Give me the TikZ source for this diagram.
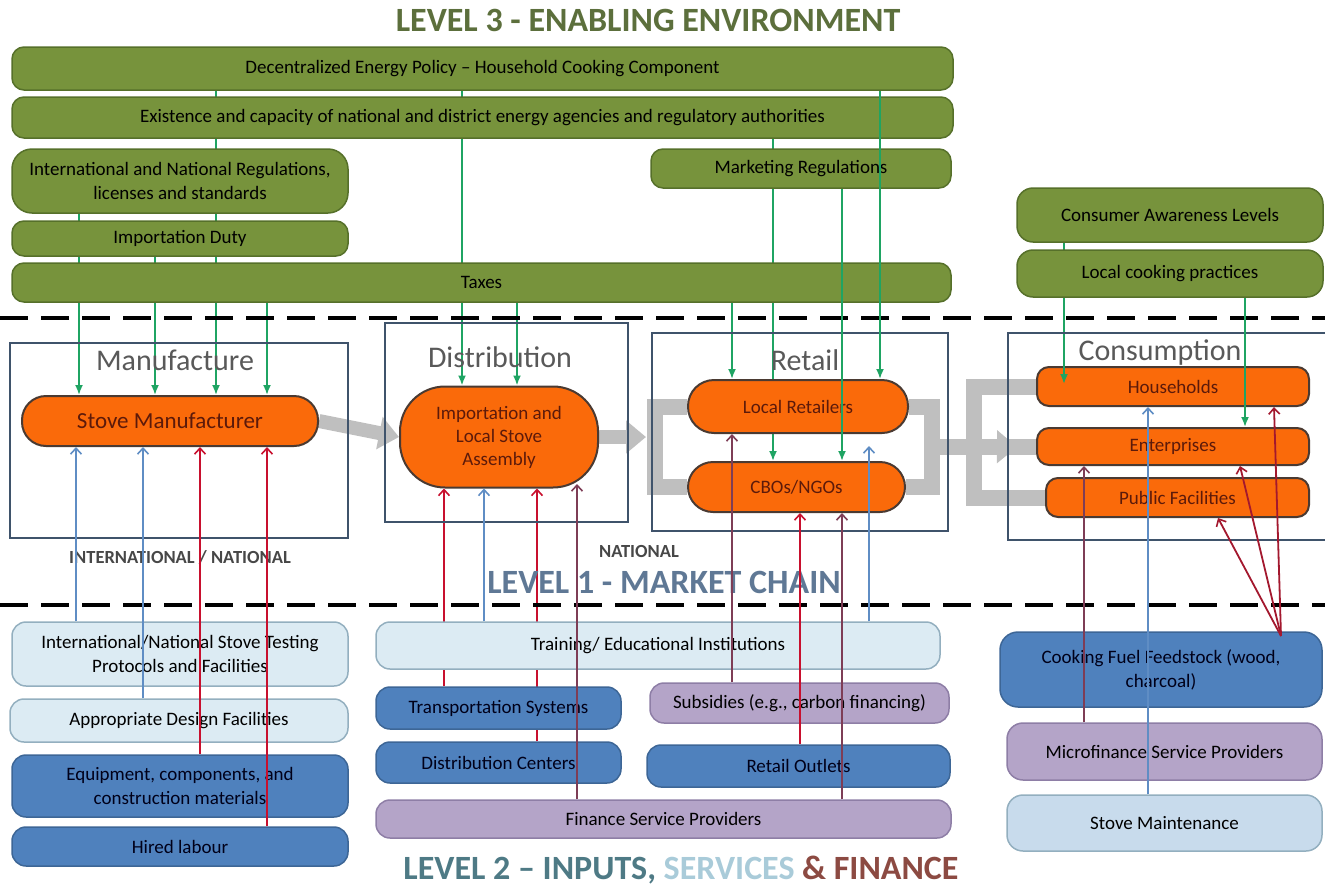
\documentclass[tikz,border=0pt]{standalone}
\usepackage{fontspec}
\setmainfont{Carlito}
\usetikzlibrary{arrows.meta}
\pgfdeclarelayer{back}
\pgfdeclarelayer{front}
\pgfsetlayers{back,main,front}

% palette
\definecolor{envfill}{HTML}{77933C}
\definecolor{envdraw}{HTML}{56702A}
\definecolor{envtitle}{HTML}{5C6F3C}
\definecolor{framecol}{HTML}{3F536B}
\definecolor{stagetext}{HTML}{595959}
\definecolor{actfill}{HTML}{FA6A0A}
\definecolor{actdraw}{HTML}{4A3A32}
\definecolor{acttext}{HTML}{5C1A0A}
\definecolor{lightfill}{HTML}{DCEBF3}
\definecolor{lightdraw}{HTML}{93AFBF}
\definecolor{paleblue}{HTML}{C8DBEC}
\definecolor{midfill}{HTML}{4F81BD}
\definecolor{middraw}{HTML}{3D6696}
\definecolor{finfill}{HTML}{B4A4C8}
\definecolor{findraw}{HTML}{8E7EA6}
\definecolor{flowgray}{HTML}{BFBFBF}
\definecolor{gcol}{HTML}{1FA463}
\definecolor{bcol}{HTML}{5F8DC4}
\definecolor{rcol}{HTML}{C8102E}
\definecolor{mcol}{HTML}{7E3D56}
\definecolor{fcol}{HTML}{A3182E}
\definecolor{lvlone}{HTML}{5F7895}
\definecolor{lvltwo}{HTML}{4E7A85}
\definecolor{svccol}{HTML}{A9CBD9}
\definecolor{fincol}{HTML}{8C4A42}

\tikzset{
  boxtext/.style={align=center, inner sep=2pt, font=\fontsize{19}{24}\selectfont},
  envbox/.style={boxtext, draw=envdraw, fill=envfill, line width=1.5pt, rounded corners=12pt, text=black},
  stagebox/.style={draw=framecol, line width=2.6pt},
  stagelabel/.style={text=stagetext, font=\fontsize{30}{32}\selectfont, inner sep=0pt},
  actor/.style={boxtext, draw=actdraw, fill=actfill, line width=2pt, text=acttext},
  inlight/.style={boxtext, draw=lightdraw, fill=lightfill, line width=1.5pt, rounded corners=14pt, text=black},
  inmid/.style={boxtext, draw=middraw, fill=midfill, line width=1.5pt, rounded corners=14pt, text=black!90!blue},
  infin/.style={boxtext, draw=findraw, fill=finfill, line width=1.5pt, rounded corners=14pt, text=black},
  glink/.style={draw=gcol, line width=1.8pt, -{Latex[length=10pt,width=8pt]}},
  barb/.style={line width=1.8pt, -{Straight Barb[length=6pt,width=11pt,line width=1.6pt]}},
  blink/.style={barb, draw=bcol},
  rlink/.style={barb, draw=rcol},
  mlink/.style={barb, draw=mcol},
  flink/.style={barb, draw=fcol},
  grayshaft/.style={draw=flowgray, line width=16pt},
  grayarrow/.style={draw=flowgray, line width=14pt, -{Triangle[length=20pt,width=32pt]}},
  divider/.style={draw=black, line width=4.5pt, dash pattern=on 28pt off 13pt},
  scopelabel/.style={text=stagetext!80!black, font=\bfseries\fontsize{18.5}{20}\selectfont},
}

% vertical connector at a given x between two node borders
\newcommand\vlink[4]{\draw[#1] (#2 -| #4,0) -- (#3 -| #4,0);}

\begin{document}
\begin{tikzpicture}[x=1pt,y=-1pt]
\useasboundingbox (0,0) rectangle (1325,889);

% ---------- Level 3: enabling environment ----------
\node[text=envtitle, font=\bfseries\fontsize{34}{36}\selectfont] (t3) at (648,20) {LEVEL 3 - ENABLING ENVIRONMENT};
\node[envbox, minimum width=941pt, minimum height=43pt] (dep) at (482.5,68.5) {Decentralized Energy Policy -- Household Cooking Component};
\node[envbox, minimum width=941pt, minimum height=41pt] (eca) at (482.5,117.5) {Existence and capacity of national and district energy agencies and regulatory authorities};
\node[envbox, rounded corners=20pt, minimum width=336pt, minimum height=64pt] (inr) at (180,181) {International and National Regulations,\\licenses and standards};
\node[envbox, minimum width=300pt, minimum height=39pt] (mkt) at (801,168.5) {Marketing Regulations};
\node[envbox, minimum width=336pt, minimum height=35pt] (imd) at (180,238.5) {Importation Duty};
\node[envbox, minimum width=939pt, minimum height=39pt] (tax) at (481.5,282.5) {Taxes};
\node[envbox, rounded corners=16pt, minimum width=306pt, minimum height=54pt] (cal) at (1170,215) {Consumer Awareness Levels};
\node[envbox, rounded corners=16pt, minimum width=306pt, minimum height=47pt] (lcp) at (1170,273.5) {Local cooking practices};

% ---------- dividers ----------
\coordinate (d1l) at (0,318);
\coordinate (d1r) at (1325,318);
\coordinate (d2l) at (0,605);
\coordinate (d2r) at (1325,605);
\draw[divider] (d1l) -- (d1r);
\draw[divider] (d2l) -- (d2r);

% ---------- Level 1: market chain ----------
\draw[stagebox] (10,343) rectangle (348,538);
\draw[stagebox] (385,323) rectangle (628,522);
\draw[stagebox] (652,333) rectangle (948,531);
\draw[stagebox] (1330,333) -- (1008,333) -- (1008,540) -- (1330,540);
\node[stagelabel] (lman) at (175,360) {Manufacture};
\node[stagelabel] (ldis) at (500,357) {Distribution};
\node[stagelabel] (lret) at (805,360) {Retail};
\node[stagelabel] (lcon) at (1160,353) {Consumption};

\node[actor, rounded corners=24pt, minimum width=296pt, minimum height=50pt, font=\fontsize{23}{25}\selectfont] (sm) at (170,421) {Stove Manufacturer};
\node[actor, rounded corners=45pt, minimum width=198pt, minimum height=101pt, font=\fontsize{19}{23}\selectfont] (imp) at (499,437) {Importation and\\Local Stove\\Assembly};
\node[actor, rounded corners=26pt, minimum width=220pt, minimum height=53pt] (lr) at (798,406.5) {Local Retailers};
\node[actor, rounded corners=25pt, minimum width=217pt, minimum height=50pt] (cbo) at (796.5,487) {CBOs/NGOs};
\node[actor, rounded corners=12pt, minimum width=272pt, minimum height=39pt] (hh) at (1173,386.5) {Households};
\node[actor, rounded corners=12pt, minimum width=272pt, minimum height=37pt] (ent) at (1173,446.5) {Enterprises};
\node[actor, rounded corners=12pt, minimum width=263pt, minimum height=39pt] (pf) at (1177.5,497.5) {Public Facilities};

\node[scopelabel] (scope1) at (180,557) {INTERNATIONAL / NATIONAL};
\node[scopelabel] (scope2) at (639,551) {NATIONAL};
\node[text=lvlone, font=\bfseries\fontsize{34}{36}\selectfont] (t1) at (664,582) {LEVEL 1 - MARKET CHAIN};

% ---------- Level 2: inputs, services and finance ----------
\node[inlight, minimum width=336pt, minimum height=64pt] (ist) at (180,654) {International/National Stove Testing\\Protocols and Facilities};
\node[inlight, minimum width=338pt, minimum height=43pt] (adf) at (179,720.5) {Appropriate Design Facilities};
\node[inmid, minimum width=336pt, minimum height=62pt] (ecm) at (180,786) {Equipment, components, and\\construction materials};
\node[inmid, minimum width=336pt, minimum height=39pt] (hl) at (180,846.5) {Hired labour};
\node[inlight, minimum width=564pt, minimum height=47pt] (tei) at (658,645.5) {Training/ Educational Institutions};
\node[inmid, minimum width=245pt, minimum height=42pt] (trs) at (498.5,708) {Transportation Systems};
\node[inmid, minimum width=245pt, minimum height=41pt] (dc) at (498.5,762.5) {Distribution Centers};
\node[infin, minimum width=299pt, minimum height=40pt] (sub) at (799.5,703) {Subsidies (e.g., carbon financing)};
\node[inmid, minimum width=303pt, minimum height=42pt] (ro) at (798.5,766) {Retail Outlets};
\node[infin, minimum width=575pt, minimum height=38pt] (fsp) at (663.5,819) {Finance Service Providers};
\node[inmid, rounded corners=18pt, minimum width=322pt, minimum height=75pt] (fuel) at (1161,669.5) {Cooking Fuel Feedstock (wood,\\charcoal)};
\node[infin, rounded corners=16pt, minimum width=315pt, minimum height=57pt] (mfs) at (1164.5,751.5) {Microfinance Service Providers};
\node[inlight, fill=paleblue, rounded corners=16pt, minimum width=315pt, minimum height=56pt] (stm) at (1164.5,823) {Stove Maintenance};

\node[font=\bfseries\fontsize{34}{36}\selectfont] (t2) at (681,870) {\textcolor{lvltwo}{LEVEL 2 -- INPUTS,} \textcolor{svccol}{SERVICES} \textcolor{fincol}{\& FINANCE}};

% ---------- product flow (grey) ----------
\coordinate (rbl) at (655,0);
\coordinate (rbr) at (932,0);
\coordinate (cbl) at (974,0);
\coordinate (chead) at (1017,447);
\begin{pgfonlayer}{back}
  \draw[grayarrow] (sm.east) -- (imp.west);
  \draw[grayarrow] (imp.east) -- (imp.east -| 646,0);
  \draw[grayshaft] (lr.west) -- (lr.west -| rbl) -- (cbo.west -| rbl) -- (cbo.west);
  \draw[grayshaft] (lr.east) -- (lr.east -| rbr) -- (cbo.east -| rbr) -- (cbo.east);
  \draw[grayshaft] (ent.west -| rbr) -- (ent.west);
  \draw[grayarrow] (ent.west -| cbl) -- (chead);
  \draw[grayshaft] (hh.west) -- (hh.west -| cbl) -- (pf.west -| cbl) -- (pf.west);
\end{pgfonlayer}

% ---------- enabling-environment influences (green) ----------
\coordinate (g11tip) at (1064,384);
\begin{pgfonlayer}{back}
  \vlink{glink}{inr.south}{sm.north}{79}
  \vlink{glink}{imd.south}{sm.north}{155}
  \vlink{glink}{dep.south}{sm.north}{216}
  \vlink{glink}{tax.south}{sm.north}{267}
  \vlink{glink}{dep.south}{imp.north}{462}
  \vlink{glink}{tax.south}{imp.north}{517}
  \vlink{glink}{tax.south}{lr.north}{732}
  \vlink{glink}{eca.south}{cbo.north}{773}
  \draw[glink] (cal.south -| g11tip) -- (g11tip);
\end{pgfonlayer}
\begin{pgfonlayer}{front}
  \vlink{glink}{mkt.south}{cbo.north}{842}
  \vlink{glink}{dep.south}{lr.north}{880}
  \draw[glink] (hh.north -| g11tip) -- (g11tip);
  \vlink{glink}{lcp.south}{ent.north}{1245}
\end{pgfonlayer}

% ---------- inputs, services and finance (level 2 to level 1) ----------
\begin{pgfonlayer}{back}
  \vlink{rlink}{trs.north}{imp.south}{444}
  \vlink{rlink}{dc.north}{imp.south}{537}
\end{pgfonlayer}
\begin{pgfonlayer}{front}
  \vlink{blink}{ist.north}{sm.south}{76}
  \vlink{blink}{adf.north}{sm.south}{143}
  \vlink{rlink}{ecm.north}{sm.south}{200}
  \vlink{rlink}{hl.north}{sm.south}{267}
  \vlink{blink}{tei.north}{imp.south}{484}
  \draw[mlink] (fsp.north -| 577,0) -- (577,484);
  \vlink{mlink}{sub.north}{lr.south}{732}
  \vlink{rlink}{ro.north}{cbo.south}{800}
  \vlink{mlink}{fsp.north}{cbo.south}{842}
  \draw[blink, shorten >=12pt] (tei.north -| 869,0) -- (lr.south -| 869,0);
  \vlink{mlink}{mfs.north}{ent.south}{1084}
  \vlink{blink}{stm.north}{hh.south}{1148}
  \coordinate (fan) at (1281,636);
  \draw[flink] (fan) -- (hh.south -| 1274,0);
  \draw[flink] (fan) -- (ent.south -| 1240,0);
  \draw[flink] (fan) -- (pf.south -| 1218,0);
\end{pgfonlayer}
\end{tikzpicture}
\end{document}
